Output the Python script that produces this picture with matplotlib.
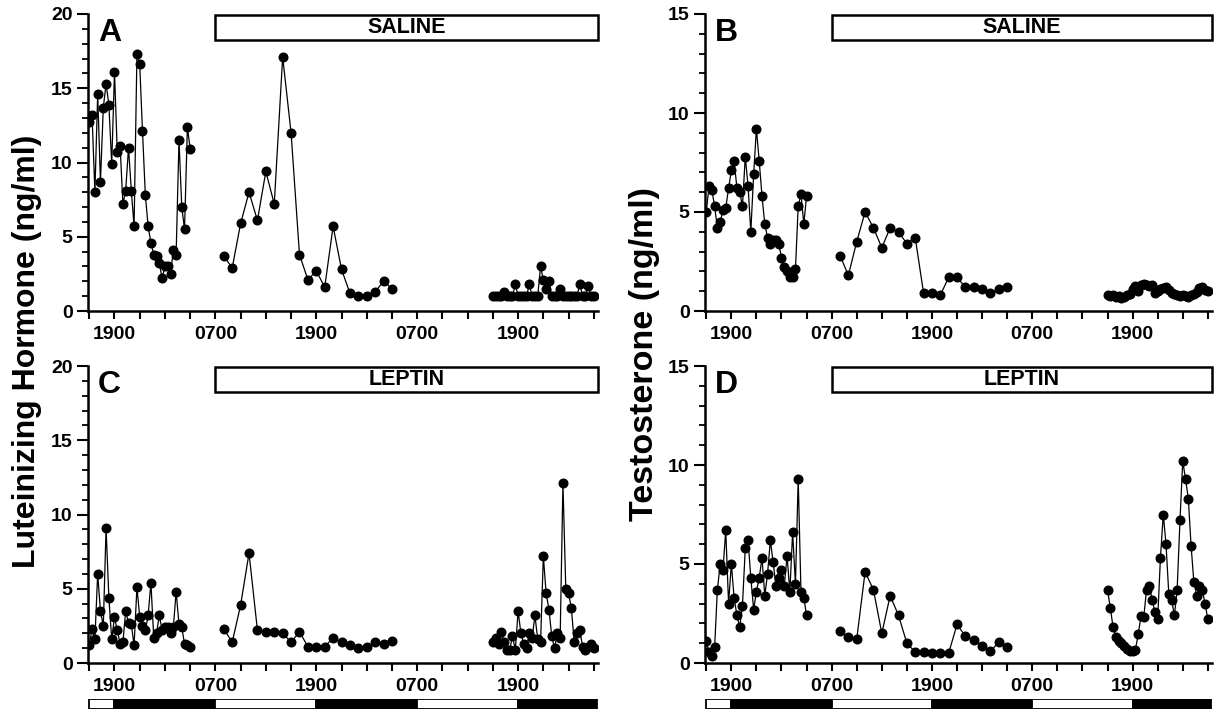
import matplotlib
matplotlib.use("Agg")
import matplotlib.pyplot as plt
from matplotlib.patches import Rectangle
from matplotlib.ticker import MultipleLocator, FixedLocator

plt.rcParams['font.family'] = ['Liberation Sans', 'DejaVu Sans']
plt.rcParams['font.weight'] = 'bold'

# sampling times (hours after 1600 on day 1)
T_NIGHT1 = [0.0, 0.33, 0.67, 1.0, 1.33, 1.67, 2.0, 2.33, 2.67, 3.0, 3.33, 3.67, 4.0,
            4.33, 4.67, 5.0, 5.33, 5.67, 6.0, 6.33, 6.67, 7.0, 7.33, 7.67, 8.0, 8.33,
            8.67, 9.0, 9.33, 9.67, 10.0, 10.33, 10.67, 11.0, 11.33, 11.67, 12.0]
T_DAY = [16, 17, 18, 19, 20, 21, 22, 23, 24, 25, 26, 27, 28, 29, 30, 31, 32, 33, 34, 35, 36]
T_NIGHT2 = [48.0, 48.33, 48.67, 49.0, 49.33, 49.67, 50.0, 50.33, 50.67, 51.0, 51.33, 51.67,
            52.0, 52.33, 52.67, 53.0, 53.33, 53.67, 54.0, 54.33, 54.67, 55.0, 55.33, 55.67,
            56.0, 56.33, 56.67, 57.0, 57.33, 57.67, 58.0, 58.33, 58.67, 59.0, 59.33, 59.67, 60.0]

# A: LH, saline
lh_saline_1 = [12.7, 13.2, 8.0, 14.6, 8.7, 13.7, 15.3, 13.9, 9.9, 16.1, 10.7, 11.1, 7.2,
               8.1, 11.0, 8.1, 5.7, 17.3, 16.6, 12.1, 7.8, 5.7, 4.6, 3.8, 3.7, 3.2, 2.2,
               3.0, 3.0, 2.5, 4.1, 3.8, 11.5, 7.0, 5.5, 12.4, 10.9]
lh_saline_2 = [3.7, 2.9, 5.9, 8.0, 6.1, 9.4, 7.2, 17.1, 12.0, 3.8, 2.1, 2.7, 1.6, 5.7,
               2.8, 1.2, 1.0, 1.0, 1.3, 2.0, 1.5]
lh_saline_3 = [1.0, 1.0, 1.0, 1.0, 1.3, 1.0, 1.0, 1.0, 1.8, 1.0, 1.0, 1.0, 1.0, 1.8,
               1.0, 1.0, 1.0, 3.0, 2.1, 1.5, 2.0, 1.0, 1.0, 1.0, 1.5, 1.0, 1.0, 1.0,
               1.0, 1.0, 1.0, 1.8, 1.0, 1.0, 1.7, 1.0, 1.0]

# B: testosterone, saline
t_saline_1 = [5.0, 6.3, 6.1, 5.3, 4.2, 4.5, 5.1, 5.2, 6.2, 7.1, 7.6, 6.2, 6.0, 5.3,
              7.8, 6.3, 4.0, 6.9, 9.2, 7.6, 5.8, 4.4, 3.7, 3.4, 3.6, 3.6, 3.4, 2.7,
              2.2, 2.0, 1.7, 1.7, 2.1, 5.3, 5.9, 4.4, 5.8]
t_saline_2 = [2.8, 1.8, 3.5, 5.0, 4.2, 3.2, 4.2, 4.0, 3.4, 3.7, 0.9, 0.9, 0.8, 1.7,
              1.7, 1.2, 1.2, 1.1, 0.9, 1.1, 1.2]
t_saline_3 = [0.80, 0.75, 0.80, 0.70, 0.75, 0.65, 0.70, 0.80, 0.85, 1.10, 1.25, 1.00,
              1.30, 1.35, 1.30, 1.25, 1.30, 0.90, 1.00, 1.10, 1.15, 1.20, 1.05, 0.90,
              0.85, 0.80, 0.75, 0.80, 0.75, 0.70, 0.80, 0.85, 0.95, 1.15, 1.20, 1.05, 1.00]

# C: LH, leptin
lh_leptin_1 = [1.2, 2.3, 1.6, 6.0, 3.5, 2.5, 9.1, 4.4, 1.6, 3.1, 2.2, 1.3, 1.4, 3.5,
               2.7, 2.6, 1.2, 5.1, 3.1, 2.5, 2.2, 3.2, 5.4, 1.7, 2.0, 3.2, 2.2, 2.4,
               2.4, 2.0, 2.4, 4.8, 2.6, 2.4, 1.3, 1.2, 1.1]
lh_leptin_2 = [2.3, 1.4, 3.9, 7.4, 2.2, 2.1, 2.1, 2.0, 1.4, 2.1, 1.1, 1.1, 1.1, 1.7,
               1.4, 1.2, 1.0, 1.1, 1.4, 1.3, 1.5]
lh_leptin_3 = [1.4, 1.7, 1.3, 2.1, 1.4, 0.9, 0.9, 1.8, 0.9, 3.5, 2.0, 1.3, 1.0, 2.0,
               1.7, 3.2, 1.6, 1.4, 7.2, 4.7, 3.6, 1.8, 1.0, 2.0, 1.7, 12.1, 5.0, 4.7,
               3.7, 1.4, 2.0, 2.2, 1.1, 0.9, 1.1, 1.3, 1.0]

# D: testosterone, leptin
t_leptin_1 = [1.1, 0.55, 0.35, 0.8, 3.7, 5.0, 4.7, 6.7, 3.0, 5.0, 3.3, 2.4, 1.8, 2.9,
              5.8, 6.2, 4.3, 2.7, 3.6, 4.3, 5.3, 3.4, 4.5, 6.2, 5.1, 3.9, 4.3, 4.7,
              3.9, 5.4, 3.6, 6.6, 4.0, 9.3, 3.6, 3.3, 2.4]
t_leptin_2 = [1.6, 1.3, 1.2, 4.6, 3.7, 1.5, 3.4, 2.4, 1.0, 0.55, 0.55, 0.52, 0.52, 0.5,
              1.95, 1.35, 1.15, 0.85, 0.6, 1.05, 0.8]
t_leptin_3 = [3.7, 2.8, 1.8, 1.3, 1.1, 1.0, 0.85, 0.7, 0.6, 0.6, 0.65, 1.45, 2.35, 2.3,
              3.7, 3.9, 3.2, 2.6, 2.2, 5.3, 7.5, 6.0, 3.5, 3.2, 2.4, 3.7, 7.2, 10.2,
              9.3, 8.3, 5.9, 4.1, 3.4, 3.9, 3.7, 3.0, 2.2]

# light / dark schedule bar
phase_start = [0, 3, 15, 27, 39, 51]
phase_end = [3, 15, 27, 39, 51, 60.4]
phase_color = ['white', 'black', 'white', 'black', 'white', 'black']

clock_ticks = [3, 15, 27, 39, 51]
clock_labels = ['1900', '0700', '1900', '0700', '1900']

W, H = 1214, 711
fig = plt.figure(figsize=(W / 100, H / 100), dpi=100)


def px_axes(left, top, right, bottom):
    return fig.add_axes([left / W, 1 - bottom / H, (right - left) / W, (bottom - top) / H])


def panel(ax, series, ymax, letter, treat):
    for t, v in series:
        ax.plot(t, v, color='black', lw=0.9, marker='o', ms=6.2, mfc='black', mec='black')
    ax.set_xlim(-0.15, 60.5)
    ax.set_ylim(0, ymax)
    for s in ['top', 'right']:
        ax.spines[s].set_visible(False)
    for s in ['left', 'bottom']:
        ax.spines[s].set_linewidth(1.8)
    ax.yaxis.set_major_locator(MultipleLocator(5))
    ax.yaxis.set_minor_locator(MultipleLocator(1))
    ax.xaxis.set_major_locator(FixedLocator(clock_ticks))
    ax.xaxis.set_minor_locator(MultipleLocator(3))
    ax.set_xticklabels(clock_labels)
    ax.tick_params(axis='y', which='major', direction='out', length=8, width=1.5,
                   labelsize=14, pad=3)
    ax.tick_params(axis='y', which='minor', direction='out', length=4, width=1.3)
    ax.tick_params(axis='x', which='both', direction='out', length=6, width=1.5,
                   labelsize=14, pad=5)
    for lab in ax.get_xticklabels() + ax.get_yticklabels():
        lab.set_fontweight('bold')
    ax.text(0.02, 0.985, letter, transform=ax.transAxes, ha='left', va='top',
            fontsize=23, fontweight='bold')
    trans = ax.get_xaxis_transform()
    ax.add_patch(Rectangle((15, 0.912), 60.5 - 15.05, 0.086, transform=trans,
                           fc='white', ec='black', lw=1.8, clip_on=False, zorder=5))
    ax.text((15 + 60.5) / 2, 0.955, treat, transform=trans, ha='center', va='center',
            fontsize=15.5, fontweight='bold', zorder=6)


def schedule_bar(left, right):
    bx = px_axes(left, 699, right, 709)
    widths = [e - s for s, e in zip(phase_start, phase_end)]
    bx.barh(0, widths, left=phase_start, height=1, color=phase_color,
            edgecolor='black', lw=1.3)
    bx.set_xlim(-0.15, 60.5)
    bx.set_ylim(-0.5, 0.5)
    bx.axis('off')


axA = px_axes(88, 14, 598, 311)
panel(axA, [(T_NIGHT1, lh_saline_1), (T_DAY, lh_saline_2), (T_NIGHT2, lh_saline_3)],
      20, 'A', 'SALINE')
axB = px_axes(705, 14, 1212, 311)
panel(axB, [(T_NIGHT1, t_saline_1), (T_DAY, t_saline_2), (T_NIGHT2, t_saline_3)],
      15, 'B', 'SALINE')
axC = px_axes(88, 366, 598, 663)
panel(axC, [(T_NIGHT1, lh_leptin_1), (T_DAY, lh_leptin_2), (T_NIGHT2, lh_leptin_3)],
      20, 'C', 'LEPTIN')
axD = px_axes(705, 366, 1212, 663)
panel(axD, [(T_NIGHT1, t_leptin_1), (T_DAY, t_leptin_2), (T_NIGHT2, t_leptin_3)],
      15, 'D', 'LEPTIN')

schedule_bar(88, 598)
schedule_bar(705, 1212)

fig.text(27 / W, 1 - 351 / H, 'Luteinizing Hormone (ng/ml)', rotation=90,
         ha='center', va='center', fontsize=23, fontweight='bold')
fig.text(645 / W, 1 - 354 / H, 'Testosterone (ng/ml)', rotation=90,
         ha='center', va='center', fontsize=24.5, fontweight='bold')

fig.savefig('out.png', dpi=100)
